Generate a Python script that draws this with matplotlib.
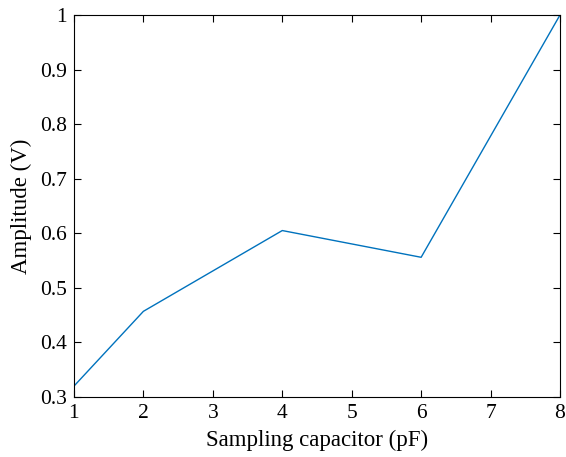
import matplotlib
matplotlib.use('Agg')
import matplotlib.pyplot as plt

# Datos
capacitancia = [1, 2, 4, 6, 8]
amplitud = [0.320, 0.457, 0.605, 0.556, 1.0]
xticks = [1, 2, 3, 4, 5, 6, 7, 8]
yticks = [0.3, 0.4, 0.5, 0.6, 0.7, 0.8, 0.9, 1.0]
ytick_labels = ['0.3', '0.4', '0.5', '0.6', '0.7', '0.8', '0.9', '1']

plt.rcParams['font.family'] = ['Liberation Serif', 'DejaVu Serif']

fig = plt.figure(figsize=(5.66, 4.57), dpi=100)
ax = fig.add_axes([0.1307, 0.1313, 0.8587, 0.8359])

ax.plot(capacitancia, amplitud, color='#0072BD', linewidth=1.0)

ax.set_xlim(1, 8)
ax.set_ylim(0.3, 1.0)
ax.set_xticks(xticks)
ax.set_yticks(yticks)
ax.set_yticklabels(ytick_labels)
ax.tick_params(direction='in', top=True, right=True, labelsize=15.5, length=5, width=0.8, pad=5)
ax.set_xlabel('Sampling capacitor (pF)', fontsize=16.5, labelpad=5)
ax.set_ylabel('Amplitude (V)', fontsize=16.5, labelpad=6)
for s in ax.spines.values():
    s.set_linewidth(0.8)

fig.savefig('out.png', dpi=100)
